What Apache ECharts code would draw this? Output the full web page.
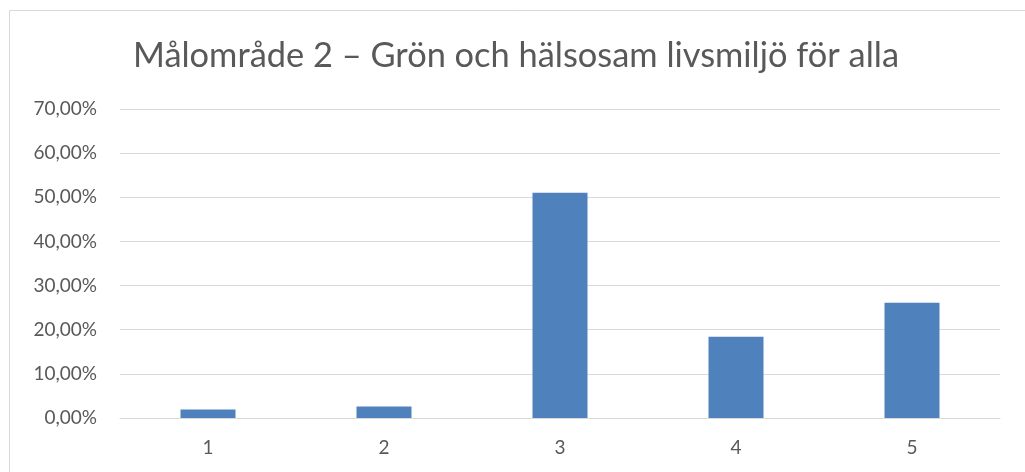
<!DOCTYPE html>
<html>
<head>
<meta charset="utf-8">
<script src="https://cdn.jsdelivr.net/npm/echarts@6/dist/echarts.min.js"></script>
<style>
    html, body { margin: 0; padding: 0; background: #fff; }
    #chart { width: 1025px; height: 472px; }
</style>
</head>
<body>
<div id="chart"></div>
<script type="text/javascript">
    // data
    const titleText = 'Målområde 2 – Grön och hälsosam livsmiljö för alla';
    const categories = ['1', '2', '3', '4', '5'];
    const shares = [1.9, 2.6, 51.0, 18.4, 26.1];

    const fontFamily = 'Lato, "Open Sans", sans-serif';
    const textColor = '#595959';

    const myChart = echarts.init(document.getElementById('chart'), null, { renderer: 'canvas' });

    const option = {
        animation: false,
        backgroundColor: '#ffffff',
        title: {
            text: titleText,
            left: 128,
            top: 34,
            textStyle: {
                fontFamily: fontFamily,
                fontSize: 34.4,
                fontWeight: 'normal',
                color: textColor
            }
        },
        graphic: [{
            type: 'rect',
            silent: true,
            shape: { x: 9.5, y: 10.5, width: 1100, height: 600 },
            style: { fill: 'none', stroke: '#d9d9d9', lineWidth: 1 }
        }],
        grid: {
            left: 120,
            right: 25,
            top: 109,
            bottom: 54
        },
        xAxis: {
            type: 'category',
            data: categories,
            axisLine: { lineStyle: { color: '#d9d9d9', width: 1 } },
            axisTick: { show: false },
            axisLabel: {
                margin: 20,
                fontFamily: fontFamily,
                fontSize: 19,
                color: textColor
            }
        },
        yAxis: {
            type: 'value',
            min: 0,
            max: 70,
            interval: 10,
            axisLine: { show: false },
            axisTick: { show: false },
            splitLine: { lineStyle: { color: '#d9d9d9', width: 1 } },
            axisLabel: {
                margin: 23,
                fontFamily: fontFamily,
                fontSize: 19,
                color: textColor,
                formatter: function (v) {
                    return v.toFixed(2).replace('.', ',') + '%';
                }
            }
        },
        series: [{
            type: 'bar',
            data: shares,
            barWidth: 55,
            itemStyle: { color: '#4f81bd' }
        }]
    };

    myChart.setOption(option);
</script>
</body>
</html>
